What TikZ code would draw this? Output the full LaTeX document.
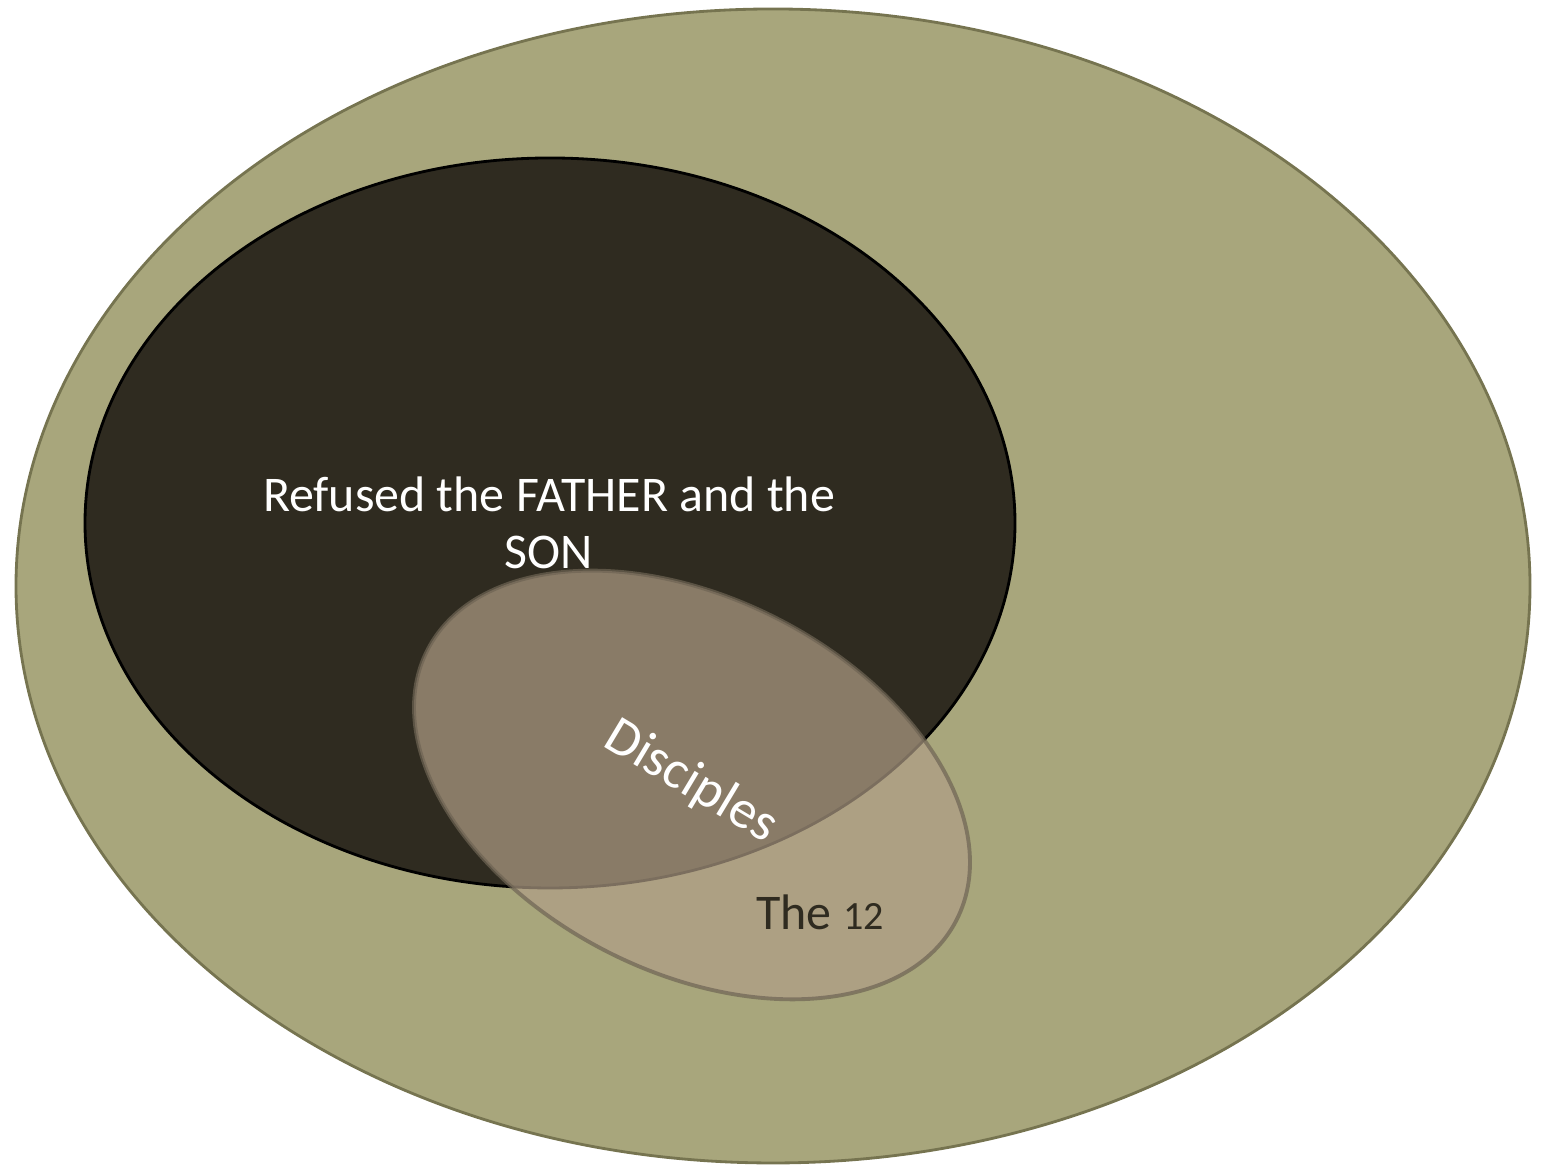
\documentclass[tikz,border=0pt]{standalone}
\usepackage{fontspec}
\setmainfont{Carlito}
\definecolor{khaki}{RGB}{168,166,124}
\definecolor{khakiline}{RGB}{118,116,80}
\definecolor{darkset}{RGB}{47,43,32}
\definecolor{beige}{RGB}{176,158,134}
\definecolor{beigeline}{RGB}{110,100,84}
\tikzset{
  outerset/.style={fill=khaki, draw=khakiline, line width=0.8pt},
  darkarea/.style={fill=darkset, draw=black, line width=0.8pt},
  twelve/.style={fill=beige, draw=beigeline, line width=1.1pt, opacity=0.7},
  label/.style={font=\fontsize{14.2}{16.4}\selectfont, align=center}
}
\newcommand{\oldnum}[1]{{\fontsize{11.4}{12}\selectfont #1}}
\begin{document}
\begin{tikzpicture}[x=0.01cm, y=0.01cm]
        \useasboundingbox (0, 0) rectangle (1545, 1165);

        % Draw the outer set and the set inside it
        \draw[outerset] (773, 579) ellipse [x radius=757, y radius=577];
        \draw[darkarea] (550, 642) ellipse [x radius=465, y radius=365];
        \node[label, text=white] (refused) at (549, 642) {Refused the FATHER and the\\SON};

        % Draw the tilted set of the twelve on top
        \draw[twelve, rotate around={-27:(692, 380)}] (692, 380) ellipse [x radius=297, y radius=187];
        \node[label, text=white, rotate=-31, font=\fontsize{15.4}{16}\selectfont] (disciples) at (691, 383) {Disciples};
        \node[label, text=darkset] (the12) at (820, 253) {The \oldnum{12}};
    \end{tikzpicture}
\end{document}
